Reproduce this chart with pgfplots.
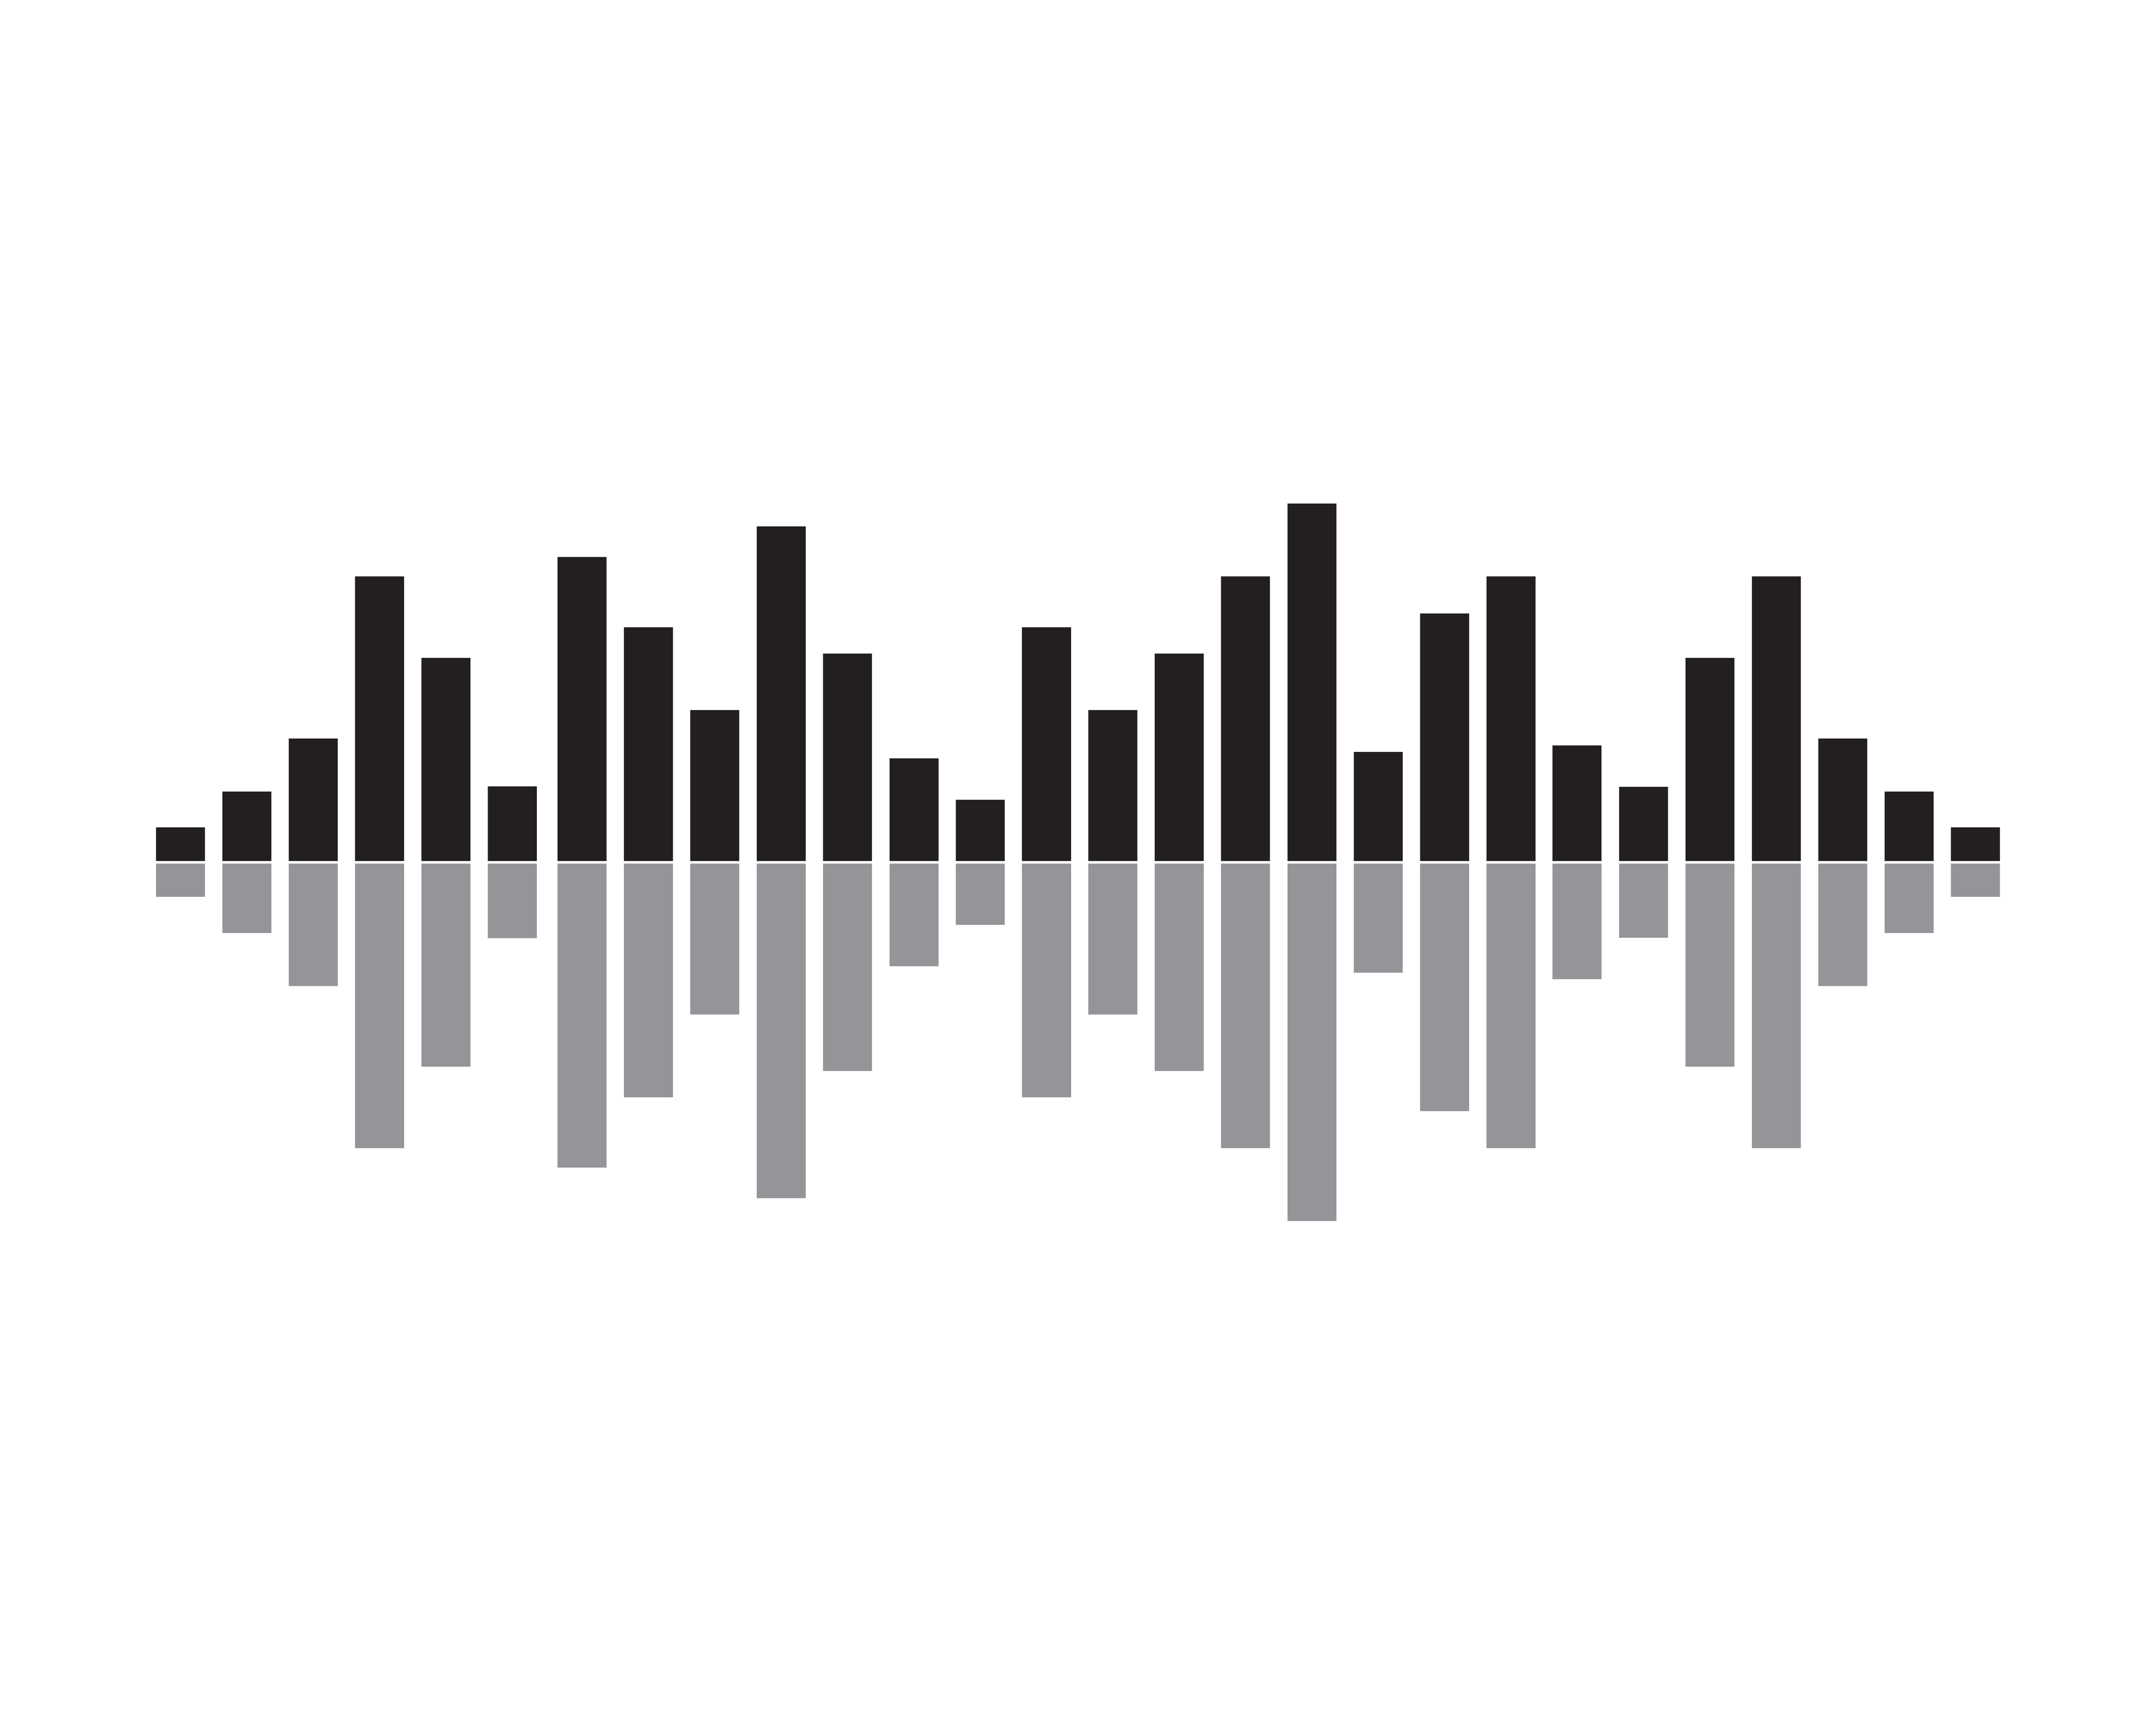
\documentclass[border=0pt]{standalone}
\usepackage{pgfplots}
\pgfplotsset{compat=1.18}
\definecolor{barblack}{HTML}{231F20}
\definecolor{bargray}{HTML}{939598}
\begin{document}
\begin{tikzpicture}
\begin{axis}[
  scale only axis, width=500pt, height=400pt,
  xmin=0, xmax=5000, ymin=-2003, ymax=1997,
  hide axis, clip=false,
  ybar, bar width=113.6, bar shift=0pt,
]
\addplot[draw=none, fill=barblack] coordinates {
(418.6,78) (572.5,161) (726.5,284) (880.2,660) (1034.1,471) (1188.1,173) (1349.8,705)
(1503.8,542) (1657.5,350) (1811.8,776) (1965.4,481) (2119.8,238) (2273.4,142) (2427.0,542)
(2580.7,350) (2734.7,481) (2888.3,660) (3042.6,829) (3196.3,253) (3350.2,574) (3504.2,660)
(3657.0,268) (3811.5,172) (3965.5,471) (4119.5,660) (4273.5,284) (4427.4,161) (4581.1,78)};
\addplot[draw=none, fill=bargray, yshift=-0.6pt] coordinates {
(418.6,-77) (572.5,-161) (726.5,-284) (880.2,-660) (1034.1,-471) (1188.1,-173) (1349.8,-705)
(1503.8,-542) (1657.5,-350) (1811.8,-776) (1965.4,-481) (2119.8,-238) (2273.4,-142) (2427.0,-542)
(2580.7,-350) (2734.7,-481) (2888.3,-660) (3042.6,-829) (3196.3,-253) (3350.2,-574) (3504.2,-660)
(3657.0,-268) (3811.5,-172) (3965.5,-471) (4119.5,-660) (4273.5,-284) (4427.4,-161) (4581.1,-77)};
\end{axis}
\pgfresetboundingbox
\path[use as bounding box] (current axis.south west) rectangle (current axis.north east);
\end{tikzpicture}
\end{document}
